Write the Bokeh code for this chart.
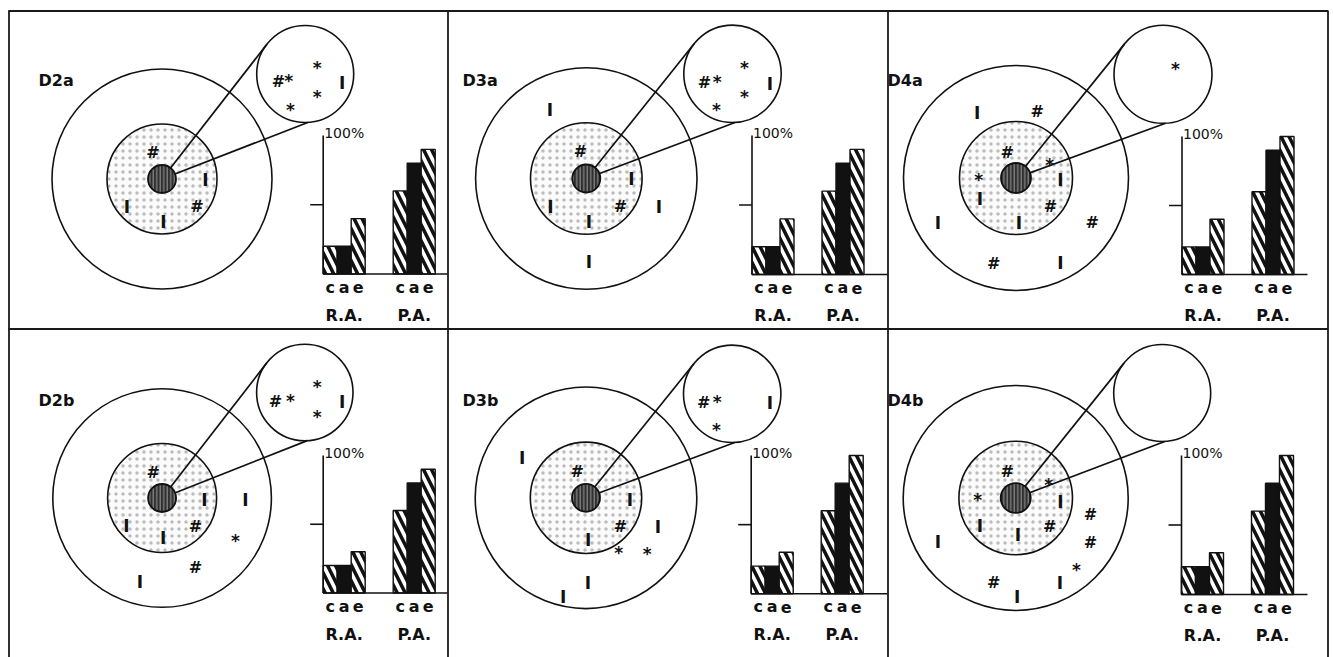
import math
from bokeh.plotting import figure
from bokeh.models import Range1d
from bokeh.embed import file_html
from bokeh.resources import INLINE
from bokeh.core.properties import value

# ---------------- data ----------------
panels = ["D2a", "D3a", "D4a", "D2b", "D3b", "D4b"]
bar_letters = ["c", "a", "e"]
group_labels = ["R.A.", "P.A."]
top_label = "100%"

# bar heights in percent (R.A. and P.A. groups; c, a, e)
ra_c = [20, 20, 20, 20, 20, 20]
ra_a = [20, 20, 20, 20, 20, 20]
ra_e = [40, 40, 40, 30, 30, 30]
pa_c = [60, 60, 60, 60, 60, 60]
pa_a = [80, 80, 90, 80, 80, 80]
pa_e = [90, 90, 100, 90, 100, 100]

# symbols: (mark, dx, dy) relative to the target centre / the magnified circle centre
d2a_target = [("#", -9, -32), ("I", 43.5, -5.5), ("I", -35, 21.5), ("I", 1.5, 36.5), ("#", 35, 21.5)]
d2a_zoom = [("#", -26.7, 1.5), ("*", -16.4, -3.5), ("*", 12, -16.5), ("*", 12, 12.5),
            ("*", -14.7, 25.5), ("I", 37, 2.5)]
d3a_target = [("I", -36.5, -74.7), ("I", 72.5, 22), ("I", 2.5, 77), ("#", -5.8, -33), ("I", 45, -5.3),
              ("I", -35.8, 22), ("I", 2.5, 37), ("#", 34.2, 22)]
d3a_zoom = [("#", -28, 2.7), ("*", -15.3, -1.6), ("*", 12, -16), ("*", 12, 12.7), ("*", -16, 26),
            ("I", 37.3, 4)]
d4a_target = [("I", -38.8, -71.5), ("#", 21.2, -72.5), ("I", -78.2, 38.5), ("#", 76.2, 38.5),
              ("#", -22.2, 79.8), ("I", 44.5, 79.2), ("#", -8.8, -31.5), ("*", 33.8, -23.5),
              ("*", -37.2, -8.2), ("I", 44.5, -4.2), ("I", -36.2, 15.2), ("#", 34.5, 22.5),
              ("I", 2.8, 38.5)]
d4a_zoom = [("*", 12.5, -15.5)]
d2b_target = [("#", -9, -31.5), ("I", 42.4, -4.2), ("I", -35.6, 21.8), ("#", 33.4, 22.5), ("I", 1, 34.2),
              ("I", 83.4, -4.2), ("*", 73.4, 32.5), ("#", 33.4, 64.2), ("I", -22.3, 77.5)]
d2b_zoom = [("#", -29.3, 3), ("*", -14.3, -2), ("*", 12.4, -15.3), ("*", 12.4, 14), ("I", 37.4, 3)]
d3b_target = [("I", -63.8, -45.6), ("I", 71.8, 22.7), ("*", 61.2, 46), ("I", 1.8, 78.7), ("I", -22.8, 92.7),
              ("#", -8.8, -32.3), ("I", 43.8, -4), ("#", 34.5, 22.7), ("I", 2.2, 36), ("*", 32.8, 45.4)]
d3b_zoom = [("#", -28.4, 3.4), ("*", -15, -1.6), ("*", -15.7, 26), ("I", 37.6, 3.4)]
d4b_target = [("#", -8.5, -32.5), ("*", 33.1, -23.5), ("*", -37.9, -8.2), ("I", 44.8, -2.5),
              ("I", -35.9, 21.8), ("#", 34.1, 22.5), ("I", 2.1, 30.8), ("#", 74.8, 10.8),
              ("#", 74.8, 38.5), ("I", -77.9, 37.5), ("*", 60.8, 61.8), ("#", -21.9, 79.2),
              ("I", 44.1, 78.5), ("I", 1.5, 92.5)]
d4b_zoom = []

target_syms = [d2a_target, d3a_target, d4a_target, d2b_target, d3b_target, d4b_target]
zoom_syms = [d2a_zoom, d3a_zoom, d4a_zoom, d2b_zoom, d3b_zoom, d4b_zoom]

# ---------------- layout (page pixels) ----------------
LAYOUT = [
    dict(tx=161.5, ty=178.5, R=110.0, Ri=55.0, rs=14, mx=304.7, my=73.5, rm=48.5, lx=38, ly=79.5, ax=322.7, yt=135, yb=273.5, be=447),
    dict(tx=585.8, ty=178.0, R=110.7, Ri=55.8, rs=14, mx=732.0, my=73.3, rm=48.7, lx=462, ly=79.5, ax=751.5, yt=135, yb=274.0, be=887),
    dict(tx=1015.5, ty=177.5, R=112.5, Ri=56.5, rs=15, mx=1162.5, my=73.8, rm=49.0, lx=887, ly=79.5, ax=1181.5, yt=136, yb=274.0, be=1307),
    dict(tx=161.6, ty=497.5, R=109.3, Ri=54.5, rs=14, mx=304.3, my=392.0, rm=48.2, lx=38, ly=399.5, ax=322.7, yt=455, yb=592.5, be=447),
    dict(tx=585.5, ty=497.3, R=110.8, Ri=55.7, rs=14, mx=731.7, my=393.3, rm=48.7, lx=462, ly=399.5, ax=750.7, yt=455, yb=593.3, be=887),
    dict(tx=1015.2, ty=497.5, R=112.5, Ri=56.8, rs=15, mx=1161.7, my=392.5, rm=48.5, lx=887, ly=399.5, ax=1181.0, yt=455, yb=594.0, be=1307),
]

W, H = 1333, 657
X0, Y0 = 0, 0
FONT = value("DejaVu Sans")
INK = "#111111"

p = figure(width=W, height=H, x_range=Range1d(X0, X0 + W), y_range=Range1d(Y0 + H, Y0),
           output_backend="svg", toolbar_location=None, min_border=0,
           x_axis_type=None, y_axis_type=None, outline_line_color=None,
           background_fill_color="white", border_fill_color="white")

# percent scales for each small bar chart
extra = {}
for i, L in enumerate(LAYOUT):
    k = (L["yb"] - L["yt"]) / 100.0
    extra[f"pct{i}"] = Range1d(-((Y0 + H) - L["yb"]) / k, (L["yb"] - Y0) / k)
p.extra_y_ranges = extra

# ---------------- targets ----------------
p.circle(x=[L["tx"] for L in LAYOUT], y=[L["ty"] for L in LAYOUT], radius=[L["R"] for L in LAYOUT],
         fill_color="white", line_color=INK, line_width=1.6)
p.circle(x=[L["tx"] for L in LAYOUT], y=[L["ty"] for L in LAYOUT], radius=[L["Ri"] for L in LAYOUT],
         fill_color="#fbfbfb", hatch_pattern=".", hatch_color="#bcbcbc", hatch_scale=7, hatch_weight=0.6,
         line_color=INK, line_width=1.6)
p.circle(x=[L["mx"] for L in LAYOUT], y=[L["my"] for L in LAYOUT], radius=[L["rm"] for L in LAYOUT],
         fill_color="white", line_color=INK, line_width=1.6)

up = (-math.cos(math.radians(38)), -math.sin(math.radians(38)))
dn = (math.sin(math.radians(3)), math.cos(math.radians(3)))
x0s, y0s, x1s, y1s = [], [], [], []
for L in LAYOUT:
    for d in (up, dn):
        x0s.append(L["tx"]); y0s.append(L["ty"])
        x1s.append(L["mx"] + d[0] * L["rm"]); y1s.append(L["my"] + d[1] * L["rm"])
p.segment(x0=x0s, y0=y0s, x1=x1s, y1=y1s, line_color=INK, line_width=1.7)

p.circle(x=[L["tx"] for L in LAYOUT], y=[L["ty"] for L in LAYOUT], radius=[L["rs"] for L in LAYOUT],
         fill_color="#303030", hatch_pattern="|", hatch_color="#9a9a9a", hatch_scale=3.5, hatch_weight=1,
         line_color=INK, line_width=1.8)

# ---------------- symbols ----------------
SYM_STYLE = {"#": (16, 0.36), "I": (17, 0.365), "*": (17, 0.6)}
for mark, (fs, shift) in SYM_STYLE.items():
    xs, ys = [], []
    for L, tlist, zlist in zip(LAYOUT, target_syms, zoom_syms):
        for m, dx, dy in tlist:
            if m == mark:
                xs.append(L["tx"] + dx); ys.append(L["ty"] + dy)
        for m, dx, dy in zlist:
            if m == mark:
                xs.append(L["mx"] + dx); ys.append(L["my"] + dy)
    p.text(x=xs, y=ys, text=[mark] * len(xs), text_font=FONT, text_font_style="bold",
           text_font_size=f"{fs}px", text_align="center", text_baseline="alphabetic",
           y_offset=shift * fs, text_color=INK)

# panel labels
p.text(x=[L["lx"] for L in LAYOUT], y=[L["ly"] for L in LAYOUT], text=panels, text_font=FONT,
       text_font_style="bold", text_font_size="16px", text_align="left", text_baseline="alphabetic",
       text_color=INK)

# ---------------- bar charts ----------------
BW = 14
hatched = dict(fill_color="white", hatch_pattern="\\", hatch_color=INK, hatch_scale=16,
               hatch_weight=3.5, line_color=INK, line_width=1.4)
for i, L in enumerate(LAYOUT):
    ax = L["ax"]
    rng = f"pct{i}"
    xc = [ax + 7, ax + 77]
    xa = [ax + 21, ax + 91]
    xe = [ax + 35, ax + 105]
    p.vbar(x=xc, top=[ra_c[i], pa_c[i]], bottom=0, width=BW, y_range_name=rng, **hatched)
    p.vbar(x=xa, top=[ra_a[i], pa_a[i]], bottom=0, width=BW, y_range_name=rng,
           fill_color=INK, line_color=INK, line_width=1.4)
    p.vbar(x=xe, top=[ra_e[i], pa_e[i]], bottom=0, width=BW, y_range_name=rng, **hatched)
    p.segment(x0=[ax, ax - 13, ax], y0=[0, 50, 0], x1=[ax, ax, L["be"]], y1=[100, 50, 0],
              y_range_name=rng, line_color=INK, line_width=1.6)
    p.text(x=[ax + 1], y=[100], text=[top_label], y_range_name=rng, text_font=FONT,
           text_font_size="14px", text_align="left", text_baseline="alphabetic", y_offset=-3,
           text_color=INK)
    lx = [xc[0], xa[0], xe[0], xc[1], xa[1], xe[1]]
    p.text(x=lx, y=[0] * 6, text=bar_letters * 2, y_range_name=rng, text_font=FONT,
           text_font_style="bold", text_font_size="16px", text_align="center",
           text_baseline="alphabetic", y_offset=13, text_color=INK)
    p.text(x=[ax + 21, ax + 91], y=[0, 0], text=group_labels, y_range_name=rng, text_font=FONT,
           text_font_style="bold", text_font_size="16px", text_align="center",
           text_baseline="alphabetic", y_offset=41, text_color=INK)

# ---------------- panel frame ----------------
p.segment(x0=[8, 8.5, 447.5, 887.5, 1327.5, 8], y0=[10.5, 10, 10, 10, 10, 328.5],
          x1=[1327.5, 8.5, 447.5, 887.5, 1327.5, 1327.5], y1=[10.5, 657, 657, 657, 657, 328.5],
          line_color="#1a1a1a", line_width=1.8)

open("out.html", "w").write(file_html(p, INLINE))
